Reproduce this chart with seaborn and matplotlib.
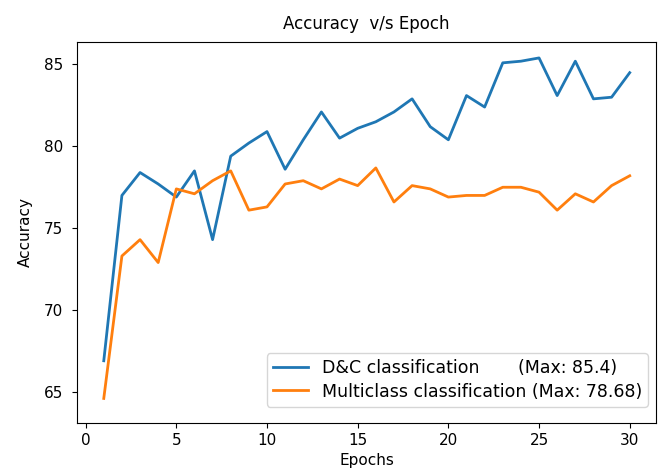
import matplotlib
matplotlib.use("Agg")
import matplotlib.pyplot as plt
import seaborn as sns
import pandas as pd

epochs = list(range(1, 31))
dc_acc = [66.9, 77.0, 78.4, 77.7, 76.9, 78.5, 74.3, 79.4, 80.2, 80.9,
          78.6, 80.4, 82.1, 80.5, 81.1, 81.5, 82.1, 82.9, 81.2, 80.4,
          83.1, 82.4, 85.1, 85.2, 85.4, 83.1, 85.2, 82.9, 83.0, 84.5]
multi_acc = [64.6, 73.3, 74.3, 72.9, 77.4, 77.1, 77.9, 78.5, 76.1, 76.3,
             77.7, 77.9, 77.4, 78.0, 77.6, 78.68, 76.6, 77.6, 77.4, 76.9,
             77.0, 77.0, 77.5, 77.5, 77.2, 76.1, 77.1, 76.6, 77.6, 78.2]
labels = ["D&C classification       (Max: 85.4)",
          "Multiclass classification (Max: 78.68)"]
title = "Accuracy  v/s Epoch"

df = pd.DataFrame({
    "Epochs": epochs * 2,
    "Accuracy": dc_acc + multi_acc,
    "Model": [labels[0]] * len(epochs) + [labels[1]] * len(epochs),
})

fig = plt.figure(figsize=(6.65, 4.68), dpi=100)
ax = fig.add_axes([0.1165, 0.0962, 0.87, 0.815])
sns.lineplot(data=df, x="Epochs", y="Accuracy", hue="Model",
             palette=["#1f77b4", "#ff7f0e"], linewidth=2.0, ax=ax)
ax.set_ylim(63.1, 86.4)
ax.set_xlim(-0.45, 31.45)
ax.set_xticks([0, 5, 10, 15, 20, 25, 30])
ax.set_yticks([65, 70, 75, 80, 85])
ax.tick_params(axis="x", labelsize=11)
ax.tick_params(axis="y", labelsize=11, pad=7)
ax.set_xlabel("Epochs", fontsize=11)
ax.set_ylabel("Accuracy", fontsize=11, labelpad=7.5)
ax.set_title(title, fontsize=12, pad=9)
ax.legend(loc="lower right", bbox_to_anchor=(0.986, 0.043), borderaxespad=0,
          fontsize=12.5, title=None, labelspacing=0.3, borderpad=0.35)
fig.savefig("out.png", dpi=100)
